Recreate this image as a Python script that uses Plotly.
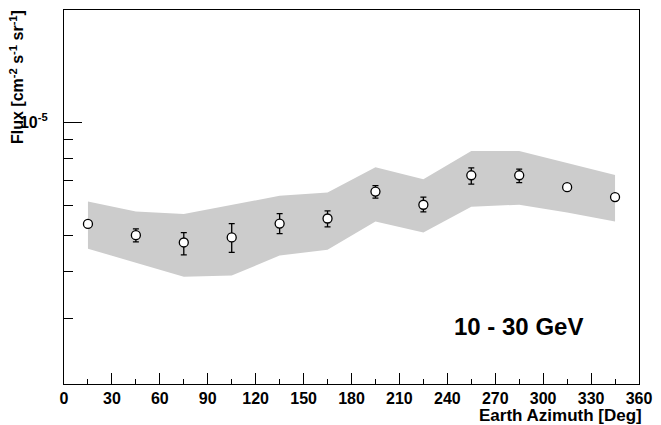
import plotly.graph_objects as go

# Data (flux in units of 1e-6 cm^-2 s^-1 sr^-1)
azimuth = [15, 45, 75, 105, 135, 165, 195, 225, 255, 285, 315, 345]
flux = [5.36, 5.00, 4.78, 4.93, 5.37, 5.54, 6.54, 6.03, 7.23, 7.23, 6.72, 6.32]
flux_err_up = [0.10, 0.20, 0.30, 0.44, 0.34, 0.27, 0.24, 0.29, 0.34, 0.28, 0.10, 0.10]
flux_err_dn = [0.10, 0.20, 0.35, 0.43, 0.32, 0.28, 0.26, 0.26, 0.38, 0.32, 0.10, 0.10]
band_upper = [6.15, 5.78, 5.70, 6.03, 6.37, 6.50, 7.59, 7.05, 8.39, 8.39, 7.79, 7.24]
band_lower = [4.60, 4.22, 3.87, 3.90, 4.41, 4.57, 5.44, 5.08, 5.96, 6.03, 5.75, 5.44]
scale = 1e-6

x_ticks = list(range(0, 361, 30))
y_minor = [2e-6, 3e-6, 4e-6, 5e-6, 6e-6, 7e-6, 8e-6, 9e-6]

FONT = "Liberation Sans"

fig = go.Figure()

fig.add_trace(go.Scatter(
    x=azimuth + azimuth[::-1],
    y=[v * scale for v in band_upper] + [v * scale for v in band_lower[::-1]],
    fill="toself", fillcolor="#cccccc", line=dict(width=0),
    mode="lines", hoverinfo="skip", showlegend=False,
))

fig.add_trace(go.Scatter(
    x=azimuth, y=[v * scale for v in flux],
    mode="markers",
    marker=dict(symbol="circle", size=9, color="white",
                line=dict(color="black", width=1.3)),
    error_y=dict(type="data", symmetric=False,
                 array=[v * scale for v in flux_err_up],
                 arrayminus=[v * scale for v in flux_err_dn],
                 color="black", thickness=1.3, width=3),
    showlegend=False,
))

fig.update_layout(
    width=661, height=425,
    margin=dict(l=64, r=15, t=9, b=41),
    paper_bgcolor="white", plot_bgcolor="white",
    font=dict(family=FONT, color="black"),
    xaxis=dict(
        range=[0, 360], tickmode="array", tickvals=x_ticks,
        ticktext=["<b>%d</b>" % t for t in x_ticks],
        ticks="inside", ticklen=11, tickwidth=1, tickcolor="black",
        minor=dict(tickmode="array", tickvals=list(range(15, 360, 30)),
                   ticks="inside", ticklen=5, tickwidth=1, tickcolor="black"),
        showline=True, linecolor="black", linewidth=1.2, mirror=True,
        showgrid=False, zeroline=False,
        ticklabelstandoff=0,
        tickfont=dict(family=FONT, size=16),
    ),
    yaxis=dict(
        type="log", range=[-5.69897, -4.69897],
        tickmode="array", tickvals=[1e-5], ticktext=["<b>10<sup>-5</sup></b>"],
        ticks="inside", ticklen=18, tickwidth=1, tickcolor="black",
        minor=dict(tickmode="array", tickvals=y_minor,
                   ticks="inside", ticklen=9, tickwidth=1, tickcolor="black"),
        showline=True, linecolor="black", linewidth=1.2, mirror=True,
        showgrid=False, zeroline=False,
        ticklabelstandoff=12,
        tickfont=dict(family=FONT, size=16),
    ),
    annotations=[
        dict(text="<b>Earth Azimuth [Deg]</b>", xref="paper", yref="paper",
             x=1.008, y=-0.084, xanchor="right", yanchor="middle",
             showarrow=False, font=dict(family=FONT, size=17)),
        dict(text="<b>Flux [cm<sup>-2</sup> s<sup>-1</sup> sr<sup>-1</sup>]</b>",
             xref="paper", yref="paper", x=-0.082, y=1.005,
             xanchor="center", yanchor="top", textangle=-90,
             showarrow=False, font=dict(family=FONT, size=16)),
        dict(text="<b>10 - 30 GeV</b>", xref="paper", yref="paper",
             x=0.79, y=0.155, xanchor="center", yanchor="middle",
             showarrow=False, font=dict(family=FONT, size=24)),
    ],
)

fig.write_html("out.html")
